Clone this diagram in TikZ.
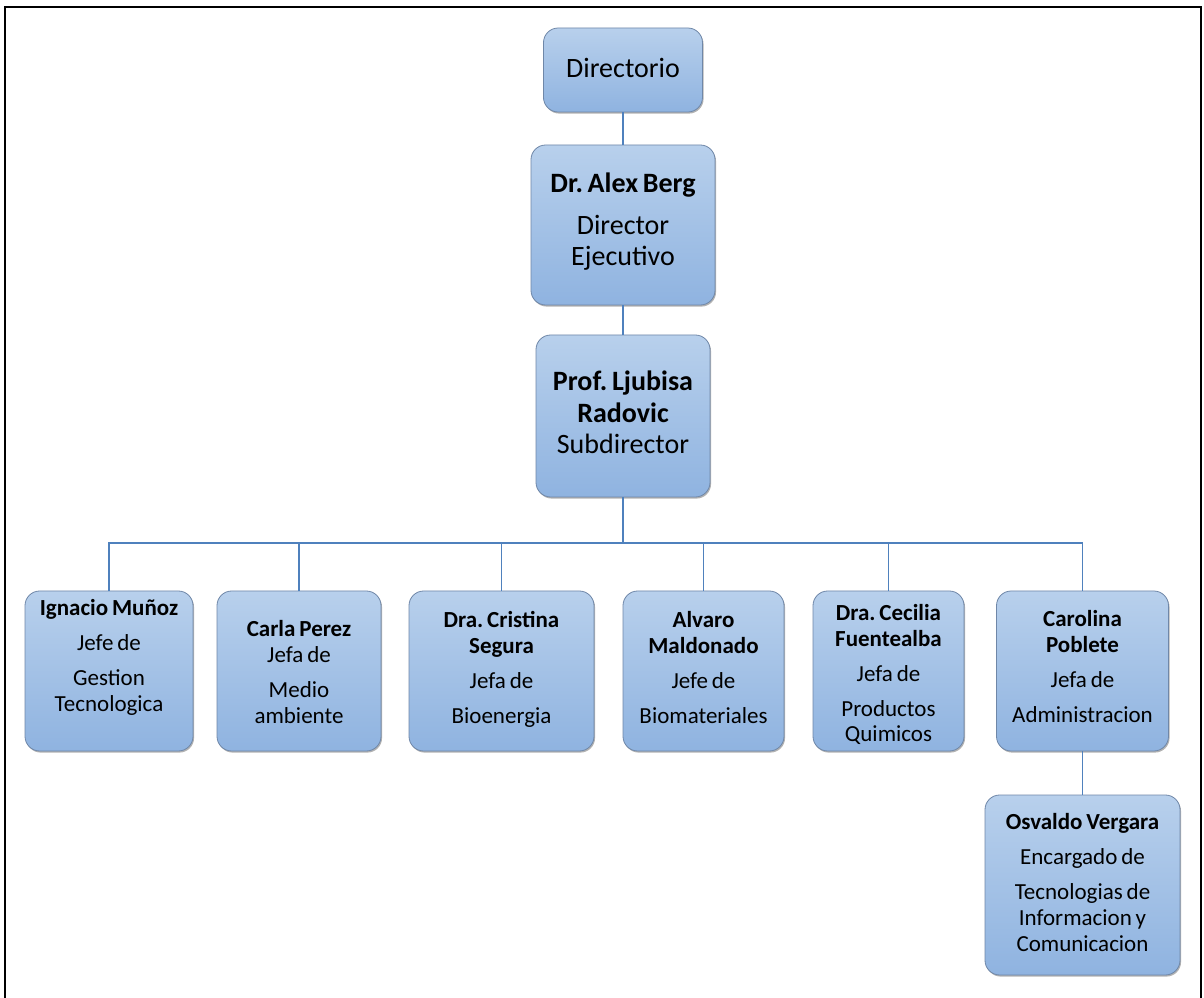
\documentclass[tikz,border=0pt]{standalone}
\usepackage{fontspec}
\setmainfont{Carlito}[WordSpace=0.75]
\frenchspacing
\usetikzlibrary{shadows}
\definecolor{boxtop}{HTML}{B8D0EC}
\definecolor{boxbot}{HTML}{8FB3E0}
\definecolor{boxline}{HTML}{6F87A8}
\definecolor{conn}{HTML}{4F81BD}
\tikzset{
  orgbox/.style={rectangle, rounded corners=11pt, draw=boxline, line width=0.6pt,
    top color=boxtop, bottom color=boxbot, inner sep=0pt,
    drop shadow={shadow xshift=0.8pt, shadow yshift=-1.2pt, opacity=0.3, fill=black}},
  toptxt/.style={anchor=base, inner sep=0pt, align=flush center, text width=170pt,
    font=\fontsize{21pt}{23.5pt}\selectfont},
  lowtxt/.style={anchor=base, inner sep=0pt, align=flush center, text width=150pt,
    font=\fontsize{17.25pt}{19.5pt}\selectfont},
  link/.style={draw=conn, line width=1.1pt}
}
\newcommand{\pgap}{\\[6.75pt]}
\begin{document}
\begin{tikzpicture}[x=0.75pt, y=-0.75pt]
\useasboundingbox (0,0) rectangle (1204,998);
\fill[white] (0,0) rectangle (1204,998);
% frame
\draw[line width=1.5pt] (5,1010) -- (5,7) -- (1201,7) -- (1201,1010);

% top boxes
\node[orgbox, minimum width=159*0.75pt, minimum height=84*0.75pt] (dir) at (623,70) {};
\node[orgbox, minimum width=184*0.75pt, minimum height=160*0.75pt] (ceo) at (623,225) {};
\node[orgbox, minimum width=174*0.75pt, minimum height=162*0.75pt] (sub) at (623,416) {};

% bottom row
\node[orgbox, minimum width=168*0.75pt, minimum height=160*0.75pt] (b1) at (109,671) {};
\node[orgbox, minimum width=164*0.75pt, minimum height=160*0.75pt] (b2) at (299,671) {};
\node[orgbox, minimum width=185*0.75pt, minimum height=160*0.75pt] (b3) at (501.5,671) {};
\node[orgbox, minimum width=161*0.75pt, minimum height=160*0.75pt] (b4) at (703.5,671) {};
\node[orgbox, minimum width=151*0.75pt, minimum height=160*0.75pt] (b5) at (888.5,671) {};
\node[orgbox, minimum width=172*0.75pt, minimum height=160*0.75pt] (b6) at (1082.5,671) {};
\node[orgbox, minimum width=195*0.75pt, minimum height=180*0.75pt] (b7) at (1082.5,885) {};

% texts
\node[toptxt] (tdir) at (623,78) {Directorio};
\node[toptxt] (tceo) at (623,193) {\textbf{Dr. Alex Berg}\\[7.5pt]Director\\Ejecutivo};
\node[toptxt] (tsub) at (623,391) {\textbf{Prof. Ljubisa}\\\textbf{Radovic}\\Subdirector};

\node[lowtxt] (t1) at (109,615) {\textbf{Ignacio Muñoz}\pgap Jefe de\pgap Gestion\\Tecnologica};
\node[lowtxt] (t2) at (299,637) {\textbf{Carla Perez}\\Jefa de\pgap Medio\\ambiente};
\node[lowtxt] (t3) at (501.5,628) {\textbf{Dra. Cristina}\\\textbf{Segura}\pgap Jefa de\pgap Bioenergia};
\node[lowtxt] (t4) at (703.5,628) {\textbf{Alvaro}\\\textbf{Maldonado}\pgap Jefe de\pgap Biomateriales};
\node[lowtxt] (t5) at (888.5,620) {\textbf{Dra. Cecilia}\\\textbf{Fuentealba}\pgap Jefa de\pgap Productos\\Quimicos};
\node[lowtxt] (t6) at (1082.5,627) {\textbf{Carolina}\\\textbf{Poblete}\pgap Jefa de\pgap Administracion};
\node[lowtxt] (t7) at (1082.5,829) {\textbf{Osvaldo Vergara}\pgap Encargado de\pgap Tecnologias de\\Informacion y\\Comunicacion};

% connectors
\coordinate (bus) at (623,543);
\draw[link] (dir.south) -- (ceo.north);
\draw[link] (ceo.south) -- (sub.north);
\draw[link] (sub.south) -- (bus);
\draw[link] (b1.north) -- (b1.north |- bus) -- (b6.north |- bus) -- (b6.north);
\draw[link] (b2.north) -- (b2.north |- bus);
\draw[link] (b3.north) -- (b3.north |- bus);
\draw[link] (b4.north) -- (b4.north |- bus);
\draw[link] (b5.north) -- (b5.north |- bus);
\draw[link] (b6.south) -- (b7.north);
\end{tikzpicture}
\end{document}
